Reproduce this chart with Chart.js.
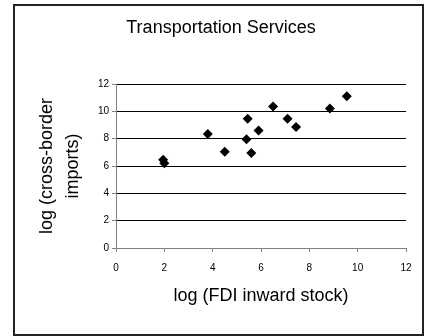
<!DOCTYPE html>
<html>
<head>
<meta charset="utf-8">
<script src="https://cdn.jsdelivr.net/npm/chart.js@4/dist/chart.umd.min.js"></script>
<style>
    html, body { margin: 0; padding: 0; background: #fff; }
    #wrap { position: relative; width: 424px; height: 336px; overflow: hidden; }
    #frame {
        position: absolute; left: 13px; top: 4px; width: 411px; height: 332px;
        border: 2px solid #222; box-sizing: border-box; pointer-events: none;
    }
</style>
</head>
<body>
<div id="wrap">
    <canvas id="scatter" width="424" height="336"></canvas>
    <div id="frame"></div>
</div>
<script>
// FDI inward stock (log) vs cross-border imports (log)
const fdiStock = [1.95, 2.0, 3.8, 4.5, 5.4, 5.45, 5.6, 5.9, 6.5, 7.1, 7.45, 8.85, 9.55];
const crossBorderImports = [6.45, 6.2, 8.35, 7.05, 7.95, 9.45, 6.95, 8.6, 10.35, 9.45, 8.85, 10.2, 11.1];
const xTicks = [0, 2, 4, 6, 8, 10, 12];
const yTicks = [0, 2, 4, 6, 8, 10, 12];

const points = fdiStock.map((x, i) => ({ x: x, y: crossBorderImports[i] }));

const font = 'Liberation Sans, Arial';

const ctx = document.getElementById('scatter').getContext('2d');
new Chart(ctx, {
    type: 'scatter',
    data: {
        datasets: [{
            label: 'Transportation Services',
            data: points,
            pointStyle: 'rectRot',
            pointRadius: 5,
            pointBackgroundColor: '#000',
            pointBorderColor: '#000',
            pointBorderWidth: 0
        }]
    },
    options: {
        responsive: false,
        animation: false,
        // left/right padding chosen so the title sits centred in the frame
        layout: { padding: { left: 36, top: 0, right: 18, bottom: 0 } },
        plugins: {
            legend: { display: false },
            tooltip: { enabled: false },
            title: {
                display: true,
                text: 'Transportation Services',
                color: '#000',
                font: { family: font, size: 18, weight: 'normal', lineHeight: 1.2 },
                padding: { top: 17, bottom: 45.4 }
            }
        },
        scales: {
            x: {
                type: 'linear',
                min: 0, max: 12,
                afterBuildTicks: s => { s.ticks = xTicks.map(v => ({ value: v })); },
                afterFit: s => { s.height = 88; },
                grid: { drawOnChartArea: false, drawTicks: true, tickLength: 4, tickColor: '#808080' },
                border: { color: '#808080', width: 1 },
                ticks: {
                    color: '#000', padding: 10, maxRotation: 0,
                    font: { family: font, size: 10 }
                },
                title: {
                    display: true,
                    text: 'log (FDI inward stock)',
                    color: '#000',
                    font: { family: font, size: 18, lineHeight: 1.2 },
                    padding: { top: 0, bottom: 29.2 }
                }
            },
            y: {
                type: 'linear',
                min: 0, max: 12,
                afterBuildTicks: s => { s.ticks = yTicks.map(v => ({ value: v })); },
                afterFit: s => { s.width = 80; },
                grid: {
                    color: c => c.tick.value === 0 ? 'rgba(0,0,0,0)' : '#000',
                    lineWidth: 1, tickLength: 4, tickColor: '#808080'
                },
                border: { color: '#808080', width: 1 },
                ticks: {
                    color: '#000', padding: 3,
                    font: { family: font, size: 10 }
                },
                title: {
                    display: true,
                    text: ['log (cross-border', 'imports)'],
                    color: '#000',
                    font: { family: font, size: 18, lineHeight: 1.444 },
                    padding: { top: -2, bottom: 0 }
                }
            }
        }
    }
});
</script>
</body>
</html>
